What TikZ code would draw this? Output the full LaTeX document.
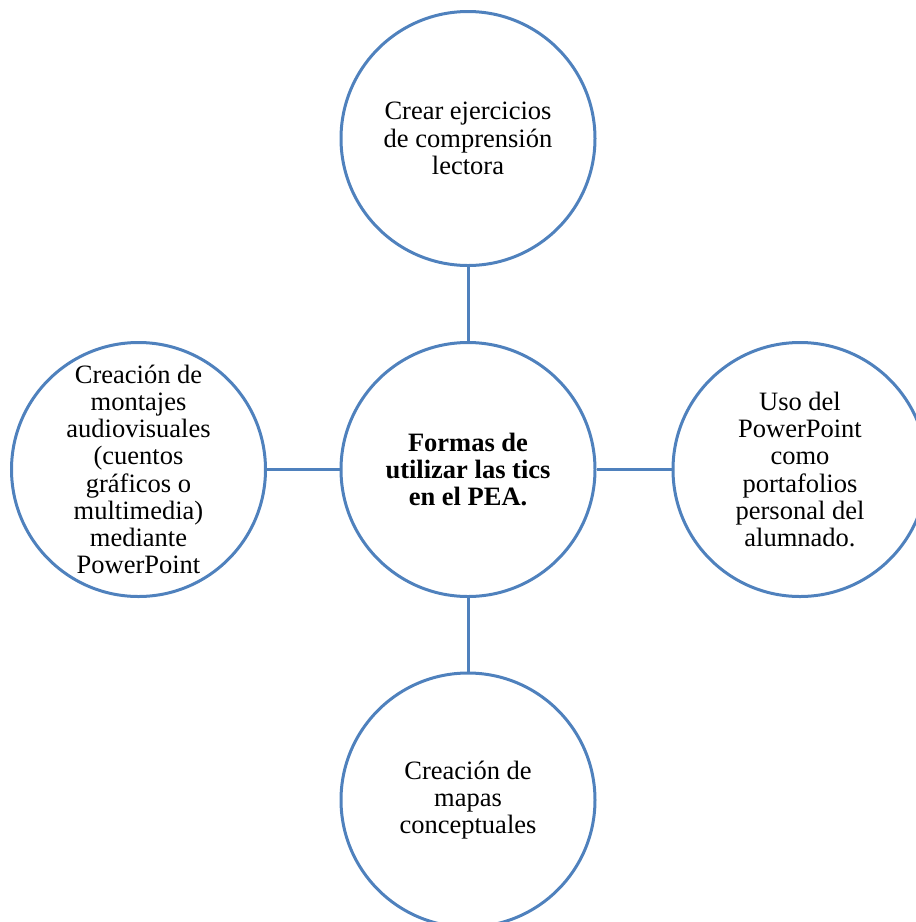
\documentclass[tikz,border=0pt]{standalone}
\usepackage{fontspec}
\setmainfont{Liberation Serif}
\definecolor{officeblue}{RGB}{79,129,189}
\tikzset{
  bubble/.style={circle, draw=officeblue, line width=3pt, minimum size=254pt, inner sep=0pt},
  bubbletext/.style={align=center, inner sep=0pt, font=\fontsize{26.5}{27.2}\selectfont},
  link/.style={draw=officeblue, line width=3pt}
}
\begin{document}
\begin{tikzpicture}[x=1pt, y=-1pt]
\useasboundingbox (0,0) rectangle (916,922);
\clip (0,0) rectangle (916,922);
\node[bubble] (c) at (468,469.5) {};
\node[bubble] (t) at (468,138.5) {};
\node[bubble] (b) at (468,800) {};
\node[bubble] (l) at (138.5,469.5) {};
\node[bubble] (r) at (800,469.5) {};
\draw[link] (c) -- (t);
\draw[link] (c) -- (b);
\draw[link] (c) -- (l);
\draw[link] (c) -- (r);
\node[bubbletext, font=\fontsize{26.5}{27.2}\selectfont\bfseries] (ct) at (c.center) {Formas de\\utilizar las tics\\en el PEA.};
\node[bubbletext] (tt) at (t.center) {Crear ejercicios\\de comprensión\\lectora};
\node[bubbletext] (bt) at (b.center) {Creación de\\mapas\\conceptuales};
\node[bubbletext] (lt) at (l.center) {Creación de\\montajes\\audiovisuales\\(cuentos\\gráficos o\\multimedia)\\mediante\\PowerPoint};
\node[bubbletext] (rt) at (r.center) {Uso del\\PowerPoint\\como\\portafolios\\personal del\\alumnado.};
\end{tikzpicture}
\end{document}
